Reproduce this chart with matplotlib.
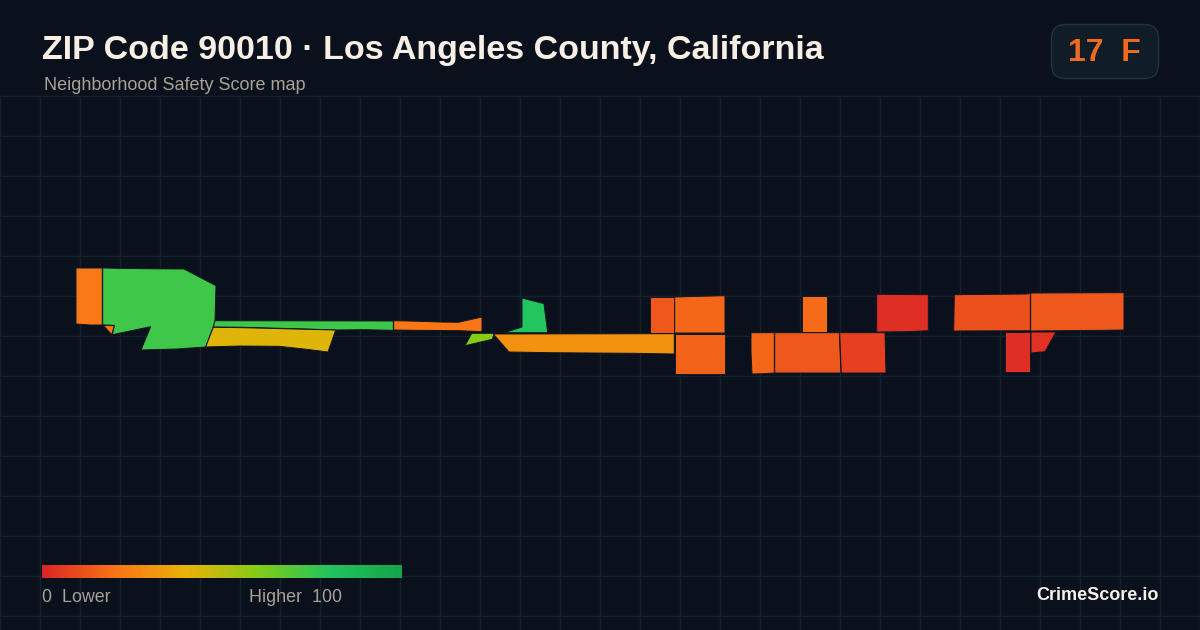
import matplotlib
matplotlib.use("Agg")
import matplotlib.pyplot as plt
import numpy as np
from matplotlib.colors import LinearSegmentedColormap, Normalize
from matplotlib.patches import FancyBboxPatch, Polygon

plt.rcParams['font.family'] = ['Liberation Sans', 'DejaVu Sans']

# Colors
bg_color = "#0a111c"
grid_color = "#13222c"
edge_color = "#101722"
scale_colors = ["#dc2626", "#f97316", "#eab308", "#84cc16", "#22c55e", "#16a34a"]

# Neighborhood scores and outlines (map x, map y)
scores = [22, 74, 21, 74, 42, 21, 43, 59, 80, 30, 13, 17, 16, 18, 2, 17, 13, 7, 11, 13, 2, 3]
outlines = [
    [(76, 268), (102.3, 268), (102.3, 325), (90, 325), (76, 324)],
    [(102.7, 268), (143, 268.7), (184, 269), (216, 285.7), (215, 320.7), (213.3, 327), (205.7, 347),
     (176.7, 349), (141, 350), (150.7, 326.7), (112.3, 334.7), (114.3, 325.3), (102.7, 325)],
    [(103.3, 325.3), (114.3, 325.7), (111.7, 334.7)],
    [(215, 320.7), (393.3, 321), (393.3, 330.3), (365, 329.7), (335.7, 330), (306, 329), (243, 327.3), (213.3, 327)],
    [(213.3, 327.3), (243.3, 327.7), (306, 329.3), (335.7, 330), (328, 352), (306.7, 349.3), (279, 346.3),
     (240, 346), (205.7, 347)],
    [(393.7, 320.7), (409, 321), (440, 322), (458.3, 322.3), (482, 317), (482, 331.7), (460, 330.7),
     (416, 330.3), (393.7, 330)],
    [(394, 331), (402, 331), (402, 332), (394, 332)],
    [(471.7, 333.3), (494.3, 333.3), (492.3, 339.3), (465, 345.7)],
    [(522, 298), (544, 303.7), (547.7, 332.7), (504, 332.7), (522, 327)],
    [(493.3, 334), (674.3, 333.7), (674.3, 354), (633.3, 353.3), (551, 352.7), (509, 352)],
    [(650, 297), (674.3, 297), (674.3, 333), (650, 333)],
    [(674.7, 297), (700, 296.3), (725, 295.7), (725, 333), (674.7, 333)],
    [(674.7, 334), (725, 334), (725, 374.3), (674.7, 374.3)],
    [(802, 295.7), (827.3, 295.7), (827.3, 332), (802, 332)],
    [(876.7, 294.3), (928.3, 294.7), (928.3, 330.7), (906.7, 331.7), (876.7, 332)],
    [(751, 332.7), (774.3, 332.7), (774.3, 373), (762.7, 373.7), (752, 374), (751, 353)],
    [(774.7, 332.7), (839.3, 332.7), (841, 373), (774.7, 373)],
    [(839.7, 332.7), (885, 332.7), (886, 373), (841.3, 373)],
    [(954.3, 294.7), (1026.7, 294), (1030.3, 293), (1030.3, 330.7), (953.7, 331)],
    [(1030.7, 293), (1124, 292.7), (1124, 330), (1104, 330.3), (1030.7, 331)],
    [(1005, 332), (1030, 332), (1030, 372), (1005, 372)],
    [(1031, 332), (1056, 332), (1045, 351.7), (1031, 353)],
]

# Text
title = "ZIP Code 90010 · Los Angeles County, California"
subtitle = "Neighborhood Safety Score map"
badge_text = "17  F"
legend_low = "0  Lower"
legend_high = "Higher  100"
brand = "CrimeScore.io"

cmap = LinearSegmentedColormap.from_list("safety", scale_colors)
norm = Normalize(0, 100)

# Whole figure is one axes in pixel units, y going down
fig = plt.figure(figsize=(12, 6.3), dpi=100, facecolor=bg_color)
ax = fig.add_axes([0, 0, 1, 1])
ax.set_facecolor(bg_color)
ax.axis("off")

# Grid starts below the header
for x in range(0, 1201, 40):
    ax.plot([x, x], [96, 630], color=grid_color, linewidth=1, zorder=1)
for y in range(96, 630, 40):
    ax.plot([0, 1200], [y, y], color=grid_color, linewidth=1, zorder=1)

# Map
for score, outline in zip(scores, outlines):
    ax.add_patch(Polygon(outline, closed=True, facecolor=cmap(norm(score)),
                         edgecolor=edge_color, linewidth=0.7, joinstyle="miter", zorder=2))

# Header
ax.text(42, 50.5, title, color="#f8efe4", fontsize=24.5, fontweight="bold", va="center", ha="left")
ax.text(44, 86, subtitle, color="#a8a296", fontsize=13, va="center", ha="left")

# Score badge
ax.add_patch(FancyBboxPatch((1051.5, 24.5), 107, 54, boxstyle="round,pad=0,rounding_size=14",
                            facecolor="#111c29", edgecolor="#25313f", linewidth=1, zorder=3))
ax.text(1104.5, 53, badge_text, color="#f26a1e", fontsize=23, fontweight="bold",
        va="center", ha="center", zorder=4)

# Legend
gradient = np.linspace(0, 100, 360).reshape(1, -1)
ax.imshow(gradient, cmap=cmap, norm=norm, extent=(42, 402, 578, 565), aspect="auto", zorder=3)
ax.text(42, 598, legend_low, color="#a8a296", fontsize=12.9, va="center", ha="left")
ax.text(249, 598, legend_high, color="#a8a296", fontsize=12.9, va="center", ha="left")

ax.text(1158.5, 595, brand, color="#f5f0e8", fontsize=13, fontweight="bold", va="center", ha="right")

ax.set_xlim(0, 1200)
ax.set_ylim(630, 0)

plt.savefig("out.png", dpi=100, facecolor=bg_color)
